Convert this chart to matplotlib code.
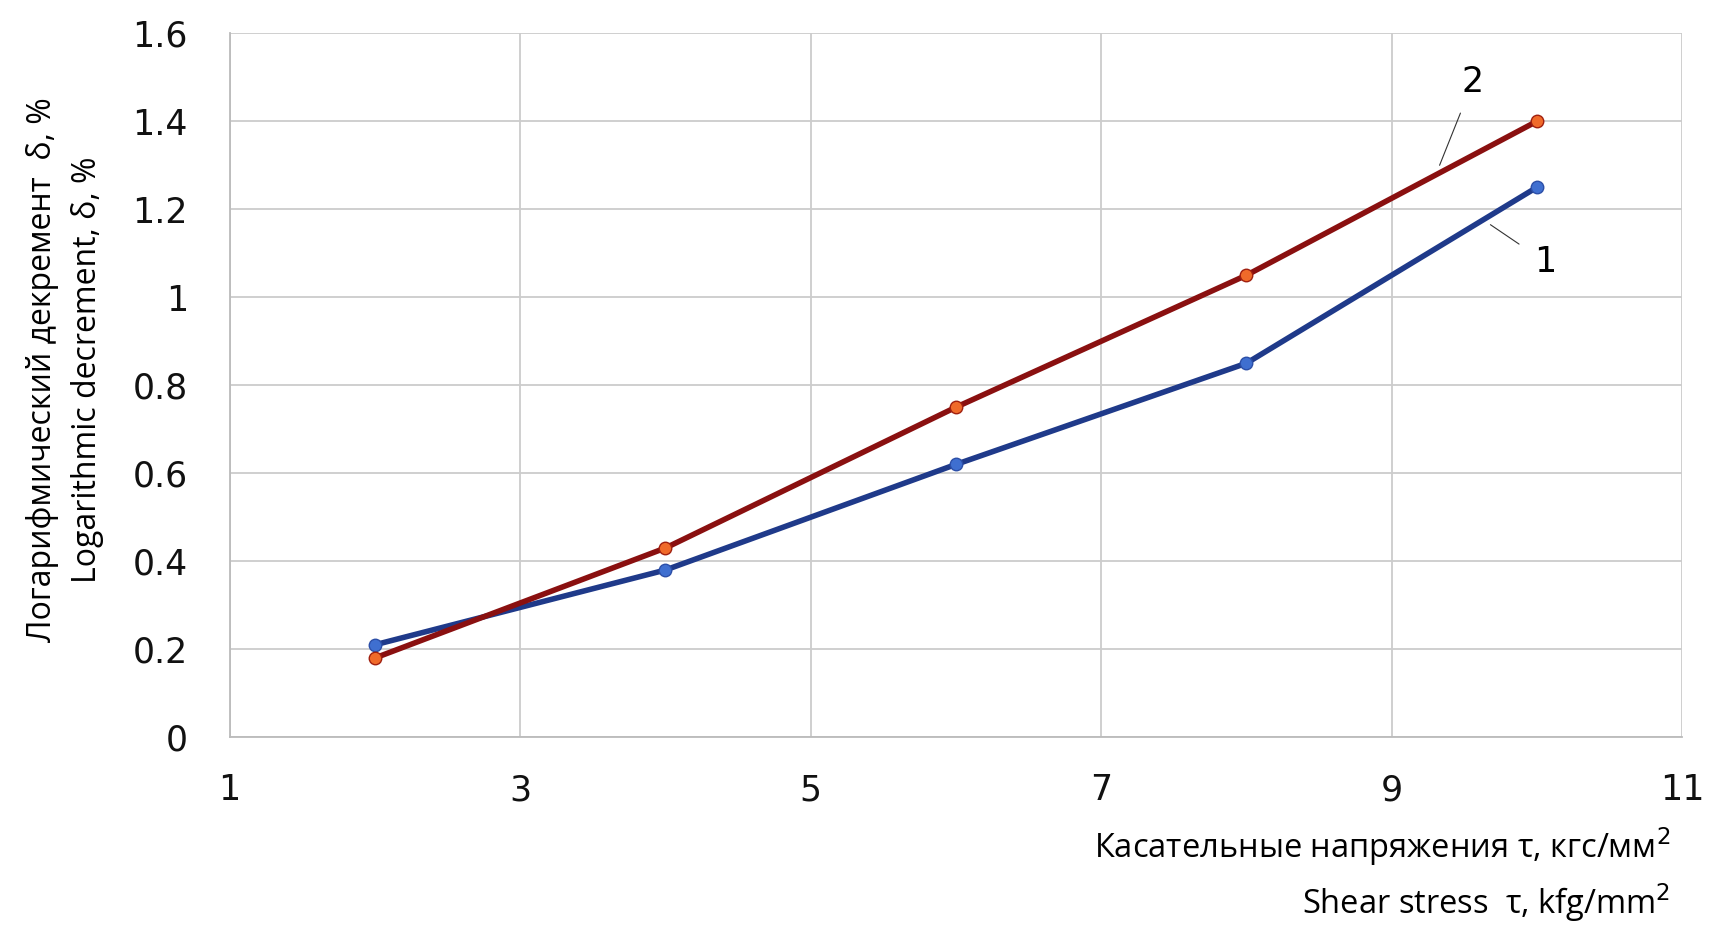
import matplotlib
matplotlib.use('Agg')
import matplotlib.pyplot as plt

# data
tau = [2, 4, 6, 8, 10]
delta_1 = [0.21, 0.38, 0.62, 0.85, 1.25]
delta_2 = [0.18, 0.43, 0.75, 1.05, 1.40]

xticks = [1, 3, 5, 7, 9, 11]
yticks = [0, 0.2, 0.4, 0.6, 0.8, 1.0, 1.2, 1.4, 1.6]
ytick_labels = ['0', '0.2', '0.4', '0.6', '0.8', '1', '1.2', '1.4', '1.6']

xlabel = 'Касательные напряжения τ, кгс/мм$^2$\nShear stress  τ, kfg/mm$^2$'
ylabel = 'Логарифмический декремент  δ, %\nLogarithmic decrement, δ, %'

label_font = ['Liberation Sans Narrow', 'Open Sans', 'DejaVu Sans']

fig = plt.figure(figsize=(17.13, 9.25), dpi=100)
ax = fig.add_axes([0.134, 0.203, 0.848, 0.761])

ax.plot(tau, delta_1, color='#1f3a8a', lw=4, marker='o', ms=9,
        mfc='#3f6fd0', mec='#2c4fa8', zorder=3)
ax.plot(tau, delta_2, color='#8a1010', lw=4, marker='o', ms=9,
        mfc='#f06a2a', mec='#a02010', zorder=3)

# curve labels with leader lines
ax.annotate('2', xy=(9.33, 1.30), xytext=(9.56, 1.49), fontsize=25,
            ha='center', va='center',
            arrowprops=dict(arrowstyle='-', color='#333333', lw=0.8, shrinkB=0, shrinkA=9))
ax.annotate('1', xy=(9.68, 1.165), xytext=(10.06, 1.08), fontsize=25,
            ha='center', va='center',
            arrowprops=dict(arrowstyle='-', color='#333333', lw=0.8, shrinkB=0, shrinkA=11))

ax.set_xlim(1, 11)
ax.set_ylim(0, 1.6)
ax.set_xticks(xticks)
ax.set_yticks(yticks)
ax.set_yticklabels(ytick_labels)
ax.tick_params(axis='both', length=0, labelsize=25, colors='#111111')
ax.tick_params(axis='x', pad=26)
ax.tick_params(axis='y', pad=30)

ax.grid(True, color='#cccccc', lw=1.3)
ax.set_axisbelow(True)
for s in ['top', 'right']:
    ax.spines[s].set_visible(False)
for s in ['left', 'bottom']:
    ax.spines[s].set_color('#bbbbbb')
    ax.spines[s].set_linewidth(1.3)

fig.text(0.975, 0.054, xlabel, ha='right', va='center', fontsize=23.5,
         family=label_font, linespacing=1.4)
fig.text(0.038, 0.6, ylabel, ha='center', va='center', rotation=90,
         fontsize=23, family=label_font, linespacing=1.45)

plt.savefig('out.png', dpi=100)
